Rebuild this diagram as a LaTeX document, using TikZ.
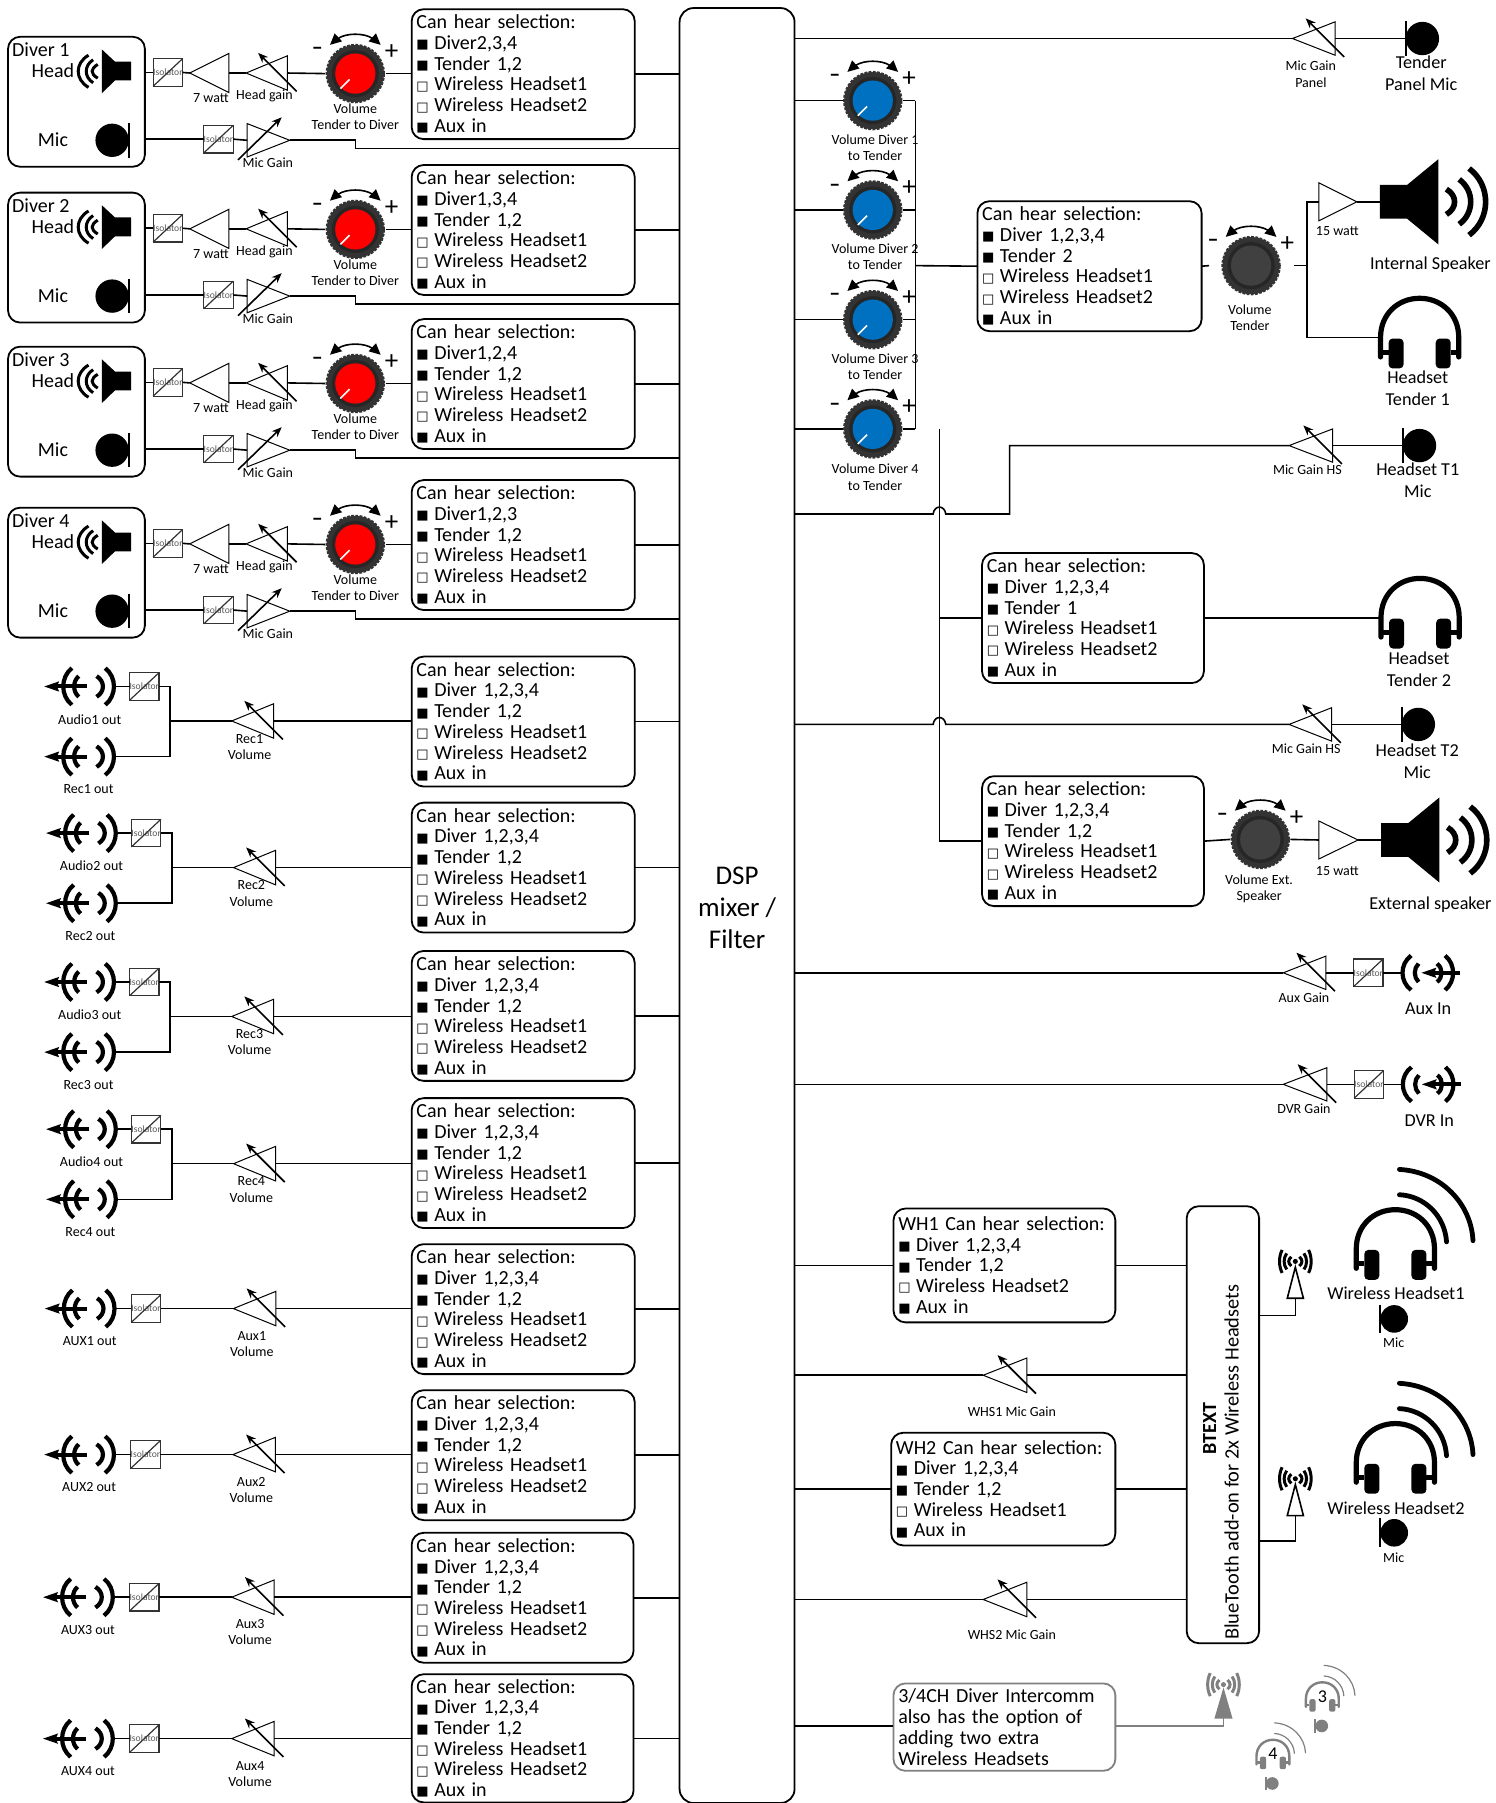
\documentclass[tikz,border=0pt]{standalone}
\usepackage{fontspec}
\setmainfont{Carlito}
\newfontfamily\dvf{DejaVu Sans}
\usetikzlibrary{arrows.meta,calc}
\definecolor{knobred}{HTML}{FF0000}
\definecolor{knobblue}{HTML}{0070C0}
\definecolor{knobdark}{HTML}{404040}
\definecolor{rimgray}{HTML}{333333}
\definecolor{softgray}{HTML}{808080}
\newcommand\smf{\fontsize{7}{8.1}\selectfont}
\newcommand\bgf{\fontsize{10}{11}\selectfont}
\newcommand\rgf{\fontsize{9.1}{11}\selectfont}
\newcommand\selfont{\fontsize{10}{10.35}\selectfont}
\newcommand\bon{\makebox[8.9pt][l]{\raisebox{0.3pt}{\dvf\fontsize{6.5}{6.5}\selectfont ■}}}
\newcommand\boff{\makebox[8.9pt][l]{\raisebox{0.3pt}{\dvf\fontsize{6.5}{6.5}\selectfont □}}}
\newcommand\sellines[2]{Can hear selection:\\\bon #1\\\bon #2\\\boff Wireless Headset1\\\boff Wireless Headset2\\\bon Aux in}
\newcount\lblc
\tikzset{
  x=0.575pt,y=-0.575pt,
  wire/.style={line width=0.8pt,line join=miter},
  tri/.style={line width=0.5pt},
  gainarrow/.style={line width=0.8pt,-{Stealth[length=5pt,width=4pt]}},
  lab/.style={align=center,inner sep=0pt,outer sep=0pt,yshift=-0.3pt},
  selbox/.style={draw=black,line width=0.9pt,rounded corners=6pt,anchor=north west,inner sep=2.4pt,outer sep=0pt,align=left,font=\selfont},
  isobox/.style={draw=black!80,line width=0.6pt,minimum size=13.8pt,inner sep=0pt,outer sep=0pt,text=black!65,font=\fontsize{4.8}{4.8}\selectfont},
  knobrim/.style={circle,fill=rimgray,draw=rimgray,line width=1.1pt,dash pattern=on 1.4pt off 0.7pt,minimum size=28.6pt,inner sep=0pt,outer sep=0.8pt},
  iconline/.style={line width=2.1pt},
}
\newcommand\mklab[4]{\global\advance\lblc by 1 \node[lab,font=#1] (lbl\the\lblc) at (#2,#3) {#4};}
\newcommand\mksel[6]{\node[selbox,minimum width=(#4-#2)*0.575pt,minimum height=(#5-#3)*0.575pt,text width=(#4-#2)*0.575pt-4.8pt] (#1) at (#2,#3) {#6};}
\newcommand\mkiso[3]{\node[isobox] (#1) at (#2,#3) {Isolator}; \draw[line width=0.6pt,black!80] (#1.south west) -- (#1.north east);}
\newcommand\mkampL[5]{\coordinate (#1-tip) at (#2,#4); \coordinate (#1-base) at (#3,#4);
  \draw[tri] (#1-tip) -- (#3,#4-#5) -- (#3,#4+#5) -- cycle;}
\newcommand\mkgainL[5]{\mkampL{#1}{#2}{#3}{#4}{#5}\draw[gainarrow] (#3+8,#4+16) -- (#3-25.5,#4-17.5);}
\newcommand\mkampR[5]{\coordinate (#1-tip) at (#3,#4); \coordinate (#1-base) at (#2,#4);
  \draw[tri] (#1-tip) -- (#2,#4-#5) -- (#2,#4+#5) -- cycle;}
\newcommand\mkgainR[5]{\mkampR{#1}{#2}{#3}{#4}{#5}\draw[gainarrow] (#2-8,#4+17) -- (#2+30,#4-20);}
\newcommand\mkknob[4]{\node[knobrim] (#1) at (#2,#3) {};
  \fill[black!85] (#2,#3) circle[radius=20.5];
  \fill[#4] (#2,#3) circle[radius=17.5];
  \draw[line width=0.8pt] (#2-15,#3-30.5) .. controls (#2-8,#3-35.5) and (#2+8,#3-35.5) .. (#2+15,#3-30.5);
  \fill (#2-22,#3-25) -- (#2-18,#3-35) -- (#2-11.5,#3-28) -- cycle;
  \fill (#2+22,#3-25) -- (#2+18,#3-35) -- (#2+11.5,#3-28) -- cycle;
  \mklab{\bfseries\fontsize{11}{11}\selectfont}{#2-33}{#3-20}{–}
  \mklab{\fontsize{13.5}{13.5}\selectfont}{#2+31.5}{#3-19.5}{+}}
\newcommand\mkpointer[2]{\draw[white,line width=0.8pt] (#1-13,#2+13) -- (#1-5,#2+5);}
\newcommand\mkbow[4]{\draw[iconline] (#1,#3-#4) .. controls ({#1+(#2-(#1))/0.75},#3-#4*0.5) and ({#1+(#2-(#1))/0.75},#3+#4*0.5) .. (#1,#3+#4);}
\newcommand\mkspeaker[3]{\coordinate (#1) at (#2,#3);
  \fill (#2,#3-14.7) -- (#2+23.7,#3-14.7) -- (#2+50.8,#3-37) -- (#2+50.8,#3+37) -- (#2+23.7,#3+14.7) -- (#2,#3+14.7) -- cycle;
  \begin{scope}\tikzset{iconline/.style={line width=2.8pt}}
  \mkbow{#2+57.8}{#2+65}{#3}{11}\mkbow{#2+69}{#2+79}{#3}{19.5}\mkbow{#2+77.6}{#2+92}{#3}{29}
  \end{scope}}
\newcommand\mkmicR[4]{\node[circle,fill,minimum size=#4*1.15pt,inner sep=0pt,outer sep=0pt] (#1b) at (#2+#4,#3) {};
  \coordinate (#1) at (#2,#3);\draw[line width=1pt] (#2,#3-#4-0.5) -- (#2,#3+#4+0.5);}
\newcommand\mkmicL[4]{\node[circle,fill,minimum size=#4*1.15pt,inner sep=0pt,outer sep=0pt] (#1b) at (#2-#4,#3) {};
  \coordinate (#1) at (#2,#3);\draw[line width=1pt] (#2,#3-#4-0.5) -- (#2,#3+#4+0.5);}
\newcommand\mkheadset[7]{\begin{scope}[shift={(#2,#3)},scale=#4,#5]
  \coordinate (#1) at (-34,34);
  \draw[line width=#6,line cap=round] (-34,51) -- (-34,34) .. controls (-34,14) and (-19,0) .. (0,0) .. controls (19,0) and (34,14) .. (34,34) -- (34,51);
  \draw[line width=#6] (-34,47) -- (-27,47) (34,47) -- (27,47);
  \fill[rounded corners=#7] (-27,35) rectangle (-14,61);
  \fill[rounded corners=#7] (14,35) rectangle (27,61);
  \end{scope}}
\newcommand\mkheadwaves[6]{\begin{scope}[shift={(#1,#2)},scale=#3,#4]
  \draw[line width=#5,line cap=round] (3.5,-35) .. controls (40,-33) and (66,-5) .. (67.5,27);
  \draw[line width=#6,line cap=round] (3.5,-13) .. controls (25,-12) and (43,5) .. (44.5,28);
  \end{scope}}
\newcommand\mkantenna[6]{\coordinate (#1) at (#2,#4);
  \begin{scope}[#6]
  \draw[line width=0.8pt,fill=#5] (#2,#3+5) -- (#2+7,#4) -- (#2-7,#4) -- cycle;
  \fill (#2,#3) circle[radius=2.2];
  \foreach \r/\h in {5.5/4,9.5/7,13.5/10}{
    \draw[line width=1.5pt] (#2+\r-2,#3-\h) .. controls (#2+\r+1,#3-\h*0.4) and (#2+\r+1,#3+\h*0.4) .. (#2+\r-2,#3+\h);
    \draw[line width=1.5pt] (#2-\r+2,#3-\h) .. controls (#2-\r-1,#3-\h*0.4) and (#2-\r-1,#3+\h*0.4) .. (#2-\r+2,#3+\h);}
  \end{scope}}
\newcommand\mkradioout[3]{\coordinate (#1) at (#2+60.6,#3);
  \mkbow{#2+24}{#2+16.5}{#3}{16}\mkbow{#2+30}{#2+26}{#3}{9}\mkbow{#2+45.5}{#2+51}{#3}{9}\mkbow{#2+53}{#2+60.6}{#3}{16}
  \draw[line width=2pt] (#2+8,#3) -- (#2+37,#3);
  \fill (#2,#3) -- (#2+13,#3-4.5) -- (#2+11,#3) -- (#2+13,#3+4.5) -- cycle;}
\newcommand\mkradioin[3]{\coordinate (#1) at (#2,#3);
  \mkbow{#2+7.5}{#2}{#3}{15}\mkbow{#2+14}{#2+10.7}{#3}{8}\mkbow{#2+30}{#2+34}{#3}{8}\mkbow{#2+37}{#2+44}{#3}{15}
  \draw[line width=2pt] (#2+24,#3) -- (#2+50.4,#3);
  \fill (#2+16.5,#3) -- (#2+29.5,#3-4.5) -- (#2+27.5,#3) -- (#2+29.5,#3+4.5) -- cycle;}
\newcommand\diverrow[3]{\begin{scope}[shift={(0,#2)}]
  \node[draw=black,line width=0.9pt,rounded corners=6pt,anchor=north west,minimum width=119*0.575pt,minimum height=113*0.575pt,inner sep=0pt,outer sep=0pt] (d#1box) at (7,32) {};
  \mklab{\bgf}{35.5}{43}{Diver #1}
  \mklab{\bgf}{46}{61}{Head}
  \mklab{\bgf}{46}{121}{Mic}
  \fill (88.6,43) -- (100,53.6) -- (114,53.6) -- (114,70) -- (100,70) -- (88.6,81) -- cycle;
  \begin{scope}[line width=1.5pt]
    \draw (77,48) .. controls (65,55) and (65,69) .. (77,76);
    \draw (81,52) .. controls (73,57) and (73,67) .. (81,72);
    \draw (85,56) .. controls (78.5,60) and (78.5,64) .. (85,68);
  \end{scope}
  \mkmicL{d#1mic}{112}{122}{14.5}
  \mkiso{d#1hi}{146}{63}
  \mkampL{d#1amp}{165}{199}{63.5}{17}
  \mkgainL{d#1hg}{214}{250}{63.5}{15}
  \mkknob{d#1kn}{309}{64}{knobred}\mkpointer{309}{64}
  \mklab{\smf}{183.5}{85}{7 watt}
  \mklab{\smf}{230}{83}{Head gain}
  \mklab{\smf}{309}{101}{Volume\\Tender to Diver}
  \mkiso{d#1mi}{190}{121}
  \mkgainR{d#1mg}{215}{252}{122}{14.5}
  \mklab{\smf}{233}{141}{Mic Gain}
  \mksel{d#1sel}{358}{8}{552}{121}{\sellines{#3}{Tender 1,2}}
  \coordinate (d#1turn) at (309,129);
  \draw[wire] (d#1box.east |- d#1hi.west) -- (d#1hi.west);
  \draw[wire] (d#1hi.east) -- (d#1amp-tip);
  \draw[wire] (d#1amp-base) -- (d#1hg-tip);
  \draw[wire] (d#1hg-base) -- (d#1kn.west);
  \draw[wire] (d#1kn.east) -- (d#1sel.west |- d#1kn.east);
  \draw[wire] (d#1sel.east) -- (d#1sel.east -| dsp.west);
  \draw[wire] (d#1box.east |- d#1mi.west) -- (d#1mi.west);
  \draw[wire] (d#1mi.east) -- (d#1mg-base);
  \draw[wire] (d#1mg-tip) -| (d#1turn) -- (d#1turn -| dsp.west);
  \end{scope}}
\newcommand\recrow[6]{\begin{scope}[shift={(#2,#3)}]
  \mkradioout{ra#1}{38.5}{597}
  \mkradioout{rr#1}{38.5}{658}
  \mkiso{ri#1}{125.5}{597}
  \coordinate (rv#1) at (148,627);
  \mkgainL{rg#1}{201.5}{238}{627}{15}
  \mklab{\smf}{78}{625}{#4}
  \mklab{\smf}{77}{686}{#5}
  \mklab{\smf}{217}{649}{#6\\Volume}
  \draw[wire] (ra#1) -- (ri#1.west);
  \draw[wire] (ri#1.east) -- (ri#1.east -| rv#1) -- (rr#1 -| rv#1) -- (rr#1);
  \draw[wire] (rv#1) -- (rg#1-tip);
  \end{scope}}
\newcommand\auxrow[5]{\begin{scope}[shift={(#2,#3)}]
  \mkradioout{xa#1}{39}{1138}
  \mkiso{xi#1}{127}{1138}
  \mkgainL{xg#1}{203}{240}{1138}{15}
  \mklab{\smf}{78}{1166}{#4}
  \mklab{\smf}{219}{1168}{#5\\Volume}
  \draw[wire] (xa#1) -- (xi#1.west);
  \draw[wire] (xi#1.east) -- (xg#1-tip);
  \end{scope}}
\begin{document}
\begin{tikzpicture}
\useasboundingbox (0,0) rectangle (1301,1568);
\node[draw=black,line width=0.9pt,rounded corners=7pt,anchor=north west,minimum width=100*0.575pt,minimum height=1561*0.575pt,inner sep=0pt,outer sep=0pt] (dsp) at (591,7) {};
\mklab{\fontsize{13.5}{16.2}\selectfont}{641}{789}{DSP\\mixer /\\Filter}

\diverrow{1}{0}{Diver2,3,4}
\diverrow{2}{135.5}{Diver1,3,4}
\diverrow{3}{269.5}{Diver1,2,4}
\diverrow{4}{409.5}{Diver1,2,3}

\mksel{s5}{358}{571}{552}{684}{\sellines{Diver 1,2,3,4}{Tender 1,2}}
\mksel{s6}{358}{698}{552}{811}{\sellines{Diver 1,2,3,4}{Tender 1,2}}
\mksel{s7}{358}{827}{552}{940}{\sellines{Diver 1,2,3,4}{Tender 1,2}}
\mksel{s8}{358}{955}{552}{1068}{\sellines{Diver 1,2,3,4}{Tender 1,2}}
\mksel{s9}{358}{1082}{552}{1195}{\sellines{Diver 1,2,3,4}{Tender 1,2}}
\mksel{s10}{358}{1209}{552}{1322}{\sellines{Diver 1,2,3,4}{Tender 1,2}}
\mksel{s11}{358}{1333}{551}{1446}{\sellines{Diver 1,2,3,4}{Tender 1,2}}
\mksel{s12}{358}{1456}{551}{1567.5}{\sellines{Diver 1,2,3,4}{Tender 1,2}}

\recrow{1}{0}{0}{Audio1 out}{Rec1 out}{Rec1}
\recrow{2}{1.6}{127.5}{Audio2 out}{Rec2 out}{Rec2}
\recrow{3}{0}{257}{Audio3 out}{Rec3 out}{Rec3}
\recrow{4}{1.6}{385}{Audio4 out}{Rec4 out}{Rec4}
\auxrow{1}{0}{0}{AUX1 out}{Aux1}
\auxrow{2}{-0.5}{127}{AUX2 out}{Aux2}
\auxrow{3}{-1.5}{251}{AUX3 out}{Aux3}
\auxrow{4}{-1.5}{374}{AUX4 out}{Aux4}
\draw[wire] (rg1-base) -- (rg1-base -| s5.west);
\draw[wire] (rg2-base) -- (rg2-base -| s6.west);
\draw[wire] (rg3-base) -- (rg3-base -| s7.west);
\draw[wire] (rg4-base) -- (rg4-base -| s8.west);
\draw[wire] (xg1-base) -- (xg1-base -| s9.west);
\draw[wire] (xg2-base) -- (xg2-base -| s10.west);
\draw[wire] (xg3-base) -- (xg3-base -| s11.west);
\draw[wire] (xg4-base) -- (xg4-base -| s12.west);
\foreach \n in {5,...,12}{\draw[wire] (s\n.east) -- (s\n.east -| dsp.west);}

\mkgainL{gp}{1124}{1161}{33.5}{14.5}
\mkmicR{mp}{1222.5}{33.5}{14.5}
\draw[wire] (dsp.east |- gp-tip) -- (gp-tip);
\draw[wire] (gp-base) -- (mp);
\mklab{\smf}{1140}{64}{Mic Gain\\Panel}
\mklab{\rgf}{1236}{63.5}{Tender\\Panel Mic}

\mkknob{kb1}{759}{87.5}{knobblue}\mkpointer{759}{87.5}
\mkknob{kb2}{759}{182.6}{knobblue}\mkpointer{759}{182.6}
\mkknob{kb3}{759}{278}{knobblue}\mkpointer{759}{278}
\mkknob{kb4}{759}{373}{knobblue}\mkpointer{759}{373}
\mklab{\smf}{761}{128}{Volume Diver 1\\to Tender}
\mklab{\smf}{761}{223}{Volume Diver 2\\to Tender}
\mklab{\smf}{761}{318.5}{Volume Diver 3\\to Tender}
\mklab{\smf}{761}{414.5}{Volume Diver 4\\to Tender}
\coordinate (bus) at (796,231);
\foreach \n in {1,...,4}{\draw[wire] (dsp.east |- kb\n.west) -- (kb\n.west);
  \draw[wire] (kb\n.east) -- (kb\n.east -| bus);}
\draw[wire] (kb1.east -| bus) -- (kb4.east -| bus);

\mksel{sr1}{850}{175}{1045}{288}{\sellines{Diver 1,2,3,4}{Tender 2}}
\draw[wire] (bus) -- (sr1.west);
\mkknob{kt}{1088}{231}{knobdark}
\mklab{\smf}{1087}{276}{Volume\\Tender}
\coordinate (ts1) at (1051.5,231);
\coordinate (ts2) at (1125.5,231);
\coordinate (tv) at (1136.5,231);
\draw[wire] (sr1.east) -- (ts1);
\draw[wire] (ts2) -- (tv);
\mkampR{a15}{1147}{1180}{175.5}{16.5}
\mkspeaker{sp1}{1200}{175.5}
\mkheadset{hs1}{1234.6}{259.4}{1}{black}{2.6pt}{2pt}
\draw[wire] (a15-base) -| (tv) |- (hs1);
\draw[wire] (a15-tip) -- (sp1);
\mklab{\smf}{1163}{200}{15 watt}
\mklab{\rgf}{1244}{229.5}{Internal Speaker}
\mklab{\rgf}{1233}{337.5}{Headset\\Tender 1}

\mkgainL{g1}{1121}{1159}{387.5}{14.5}
\mkmicR{m1}{1220}{387.5}{14.5}
\coordinate (hp1) at (878,447);
\coordinate (hp2) at (878,387.5);
\coordinate (hl1) at (811.5,447);
\coordinate (hr1) at (822.5,447);
\draw[wire] (dsp.east |- hl1) -- (hl1) .. controls (812.5,439) and (821.5,439) .. (hr1) -- (hp1) -- (hp2) -- (g1-tip);
\draw[wire] (g1-base) -- (m1);
\mklab{\smf}{1137}{408}{Mic Gain HS}
\mklab{\rgf}{1233}{417.5}{Headset T1\\Mic}

\mkgainL{g2}{1121}{1158}{630}{14.5}
\mkmicR{m2}{1219}{630}{14.5}
\coordinate (hl2) at (811.5,630);
\coordinate (hr2) at (822.5,630);
\draw[wire] (dsp.east |- hl2) -- (hl2) .. controls (812.5,622) and (821.5,622) .. (hr2) -- (g2-tip);
\draw[wire] (g2-base) -- (m2);
\mklab{\smf}{1136}{651}{Mic Gain HS}
\mklab{\rgf}{1232.5}{661.5}{Headset T2\\Mic}

\coordinate (vtop) at (817,373);
\mksel{sr2}{854}{481}{1047}{594}{\sellines{Diver 1,2,3,4}{Tender 1}}
\mksel{sr3}{854}{675}{1047}{788}{\sellines{Diver 1,2,3,4}{Tender 1,2}}
\draw[wire] (vtop) |- (sr3.west);
\draw[wire] (vtop |- sr2.west) -- (sr2.west);
\mkheadset{hs2}{1235}{503}{1}{black}{2.6pt}{2pt}
\draw[wire] (sr2.east) -- (sr2.east -| hs2);
\mklab{\rgf}{1234}{581.5}{Headset\\Tender 2}

\mkknob{kx}{1096}{730}{knobdark}
\mkampR{a15x}{1147}{1181}{730.5}{16.5}
\mkspeaker{sp2}{1201}{730.5}
\draw[wire] (sr3.east) -- (kx.west);
\draw[wire] (kx.east) -- (a15x-base);
\draw[wire] (a15x-tip) -- (sp2);
\mklab{\smf}{1095}{772.5}{Volume Ext.\\Speaker}
\mklab{\smf}{1163}{757}{15 watt}
\mklab{\rgf}{1244}{786}{External speaker}

\mkgainL{ga}{1116}{1153}{846}{14.5}
\mkiso{ia}{1190}{846}
\mkradioin{ra}{1219.7}{846}
\draw[wire] (dsp.east |- ga-tip) -- (ga-tip);
\draw[wire] (ga-base) -- (ia.west);
\draw[wire] (ia.east) -- (ra);
\mklab{\smf}{1134}{867}{Aux Gain}
\mklab{\rgf}{1242}{877}{Aux In}

\mkgainL{gd}{1116}{1154}{943}{14.5}
\mkiso{id}{1190.5}{943}
\mkradioin{rd}{1220}{943}
\draw[wire] (dsp.east |- gd-tip) -- (gd-tip);
\draw[wire] (gd-base) -- (id.west);
\draw[wire] (id.east) -- (rd);
\mklab{\smf}{1134}{964}{DVR Gain}
\mklab{\rgf}{1243}{974}{DVR In}

\node[draw=black,line width=0.9pt,rounded corners=6pt,anchor=north west,minimum width=63*0.575pt,minimum height=380*0.575pt,inner sep=0pt,outer sep=0pt] (bt) at (1032,1049) {};
\node[lab,rotate=90,font=\bfseries\fontsize{10}{10}\selectfont] (bttitle) at (1052,1242) {BTEXT};
\node[lab,rotate=90,font=\fontsize{10.2}{11}\selectfont] (bttext) at (1071,1271) {BlueTooth add-on for 2x Wireless Headsets};
\mksel{w1}{777}{1051}{970}{1150}{WH1 Can hear selection:\\\bon Diver 1,2,3,4\\\bon Tender 1,2\\\boff Wireless Headset2\\\bon Aux in}
\mksel{w2}{775}{1246}{970}{1344}{WH2 Can hear selection:\\\bon Diver 1,2,3,4\\\bon Tender 1,2\\\boff Wireless Headset1\\\bon Aux in}
\draw[wire] (dsp.east |- w1.west) -- (w1.west);
\draw[wire] (w1.east) -- (w1.east -| bt.west);
\draw[wire] (dsp.east |- w2.west) -- (w2.west);
\draw[wire] (w2.east) -- (w2.east -| bt.west);
\mkgainL{gw1}{855}{893}{1196}{15}
\mkgainL{gw2}{855}{893}{1391}{15}
\draw[wire] (dsp.east |- gw1-tip) -- (gw1-tip);
\draw[wire] (gw1-base) -- (gw1-base -| bt.west);
\draw[wire] (dsp.east |- gw2-tip) -- (gw2-tip);
\draw[wire] (gw2-base) -- (gw2-base -| bt.west);
\mklab{\smf}{880}{1227}{WHS1 Mic Gain}
\mklab{\smf}{880}{1421}{WHS2 Mic Gain}

\mkantenna{an1}{1126.5}{1097}{1129}{white}{black}
\mkantenna{an2}{1126.5}{1286}{1318}{white}{black}
\coordinate (al1) at (1126.5,1144);
\coordinate (al2) at (1126.5,1340);
\draw[wire] (bt.east |- al1) -- (al1) -- (an1);
\draw[wire] (bt.east |- al2) -- (al2) -- (an2);
\mkheadset{hw1}{1213.5}{1052}{1}{black}{2.6pt}{2pt}
\mkheadwaves{1213.5}{1052}{1}{black}{2.4pt}{2.4pt}
\mkheadset{hw2}{1213.5}{1238}{1}{black}{2.6pt}{2pt}
\mkheadwaves{1213.5}{1238}{1}{black}{2.4pt}{2.4pt}
\mklab{\rgf}{1214}{1124}{Wireless Headset1}
\mklab{\rgf}{1214}{1311}{Wireless Headset2}
\mkmicR{mw1}{1200.5}{1147}{12}
\mkmicR{mw2}{1200.5}{1333}{12}
\mklab{\smf}{1212}{1167}{Mic}
\mklab{\smf}{1212}{1354}{Mic}

\node[selbox,draw=softgray,minimum width=193*0.575pt,minimum height=76*0.575pt,text width=193*0.575pt-4.8pt] (opt) at (777,1464) {3/4CH Diver Intercomm\\also has the option of\\adding two extra\\Wireless Headsets};
\mkantenna{an3}{1064}{1465}{1494}{softgray}{softgray}
\coordinate (ol) at (1064,1501);
\draw[wire] (dsp.east |- ol) -- (ol -| opt.west);
\draw[wire,softgray] (ol -| opt.east) -- (ol) -- (an3);
\mkheadset{hx3}{1150}{1463}{0.42}{softgray}{1.2pt}{1pt}
\mkheadwaves{1150}{1463}{0.42}{softgray}{0.6pt}{0.6pt}
\mklab{\fontsize{9}{9}\selectfont}{1150}{1475}{3}
\mkheadset{hx4}{1107}{1513}{0.42}{softgray}{1.2pt}{1pt}
\mkheadwaves{1107}{1513}{0.42}{softgray}{0.6pt}{0.6pt}
\mklab{\fontsize{9}{9}\selectfont}{1107}{1525}{4}
\begin{scope}[softgray]
\mkmicR{mx3}{1144}{1501}{5.5}
\mkmicR{mx4}{1101}{1551}{5.5}
\end{scope}
\end{tikzpicture}
\end{document}
